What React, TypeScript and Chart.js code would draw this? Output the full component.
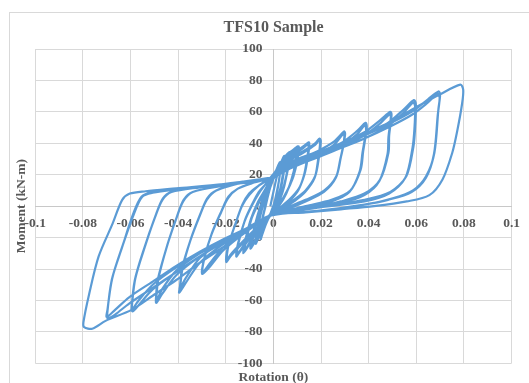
import React, { useEffect, useRef } from "react";
import { Chart, registerables } from "chart.js";

Chart.register(...registerables);

const chartTitle = "TFS10 Sample";
const xAxisTitle = "Rotation (θ)";
const yAxisTitle = "Moment (kN-m)";

const xTickValues = [-0.1, -0.08, -0.06, -0.04, -0.02, 0, 0.02, 0.04, 0.06, 0.08, 0.1];
const xTickLabels = ["-0.1", "-0.08", "-0.06", "-0.04", "-0.02", "0", "0.02", "0.04", "0.06", "0.08", "0.1"];
const yTickValues = [-100, -80, -60, -40, -20, 0, 20, 40, 60, 80, 100];
const yTickLabels = ["-100", "-80", "-60", "-40", "-20", "0", "20", "40", "60", "80", "100"];

// [rotation, moment] pairs, one array per loading cycle
const loop004a = [[-0.0013, 0], [0.0007, 14], [0.0027, 26], [0.0025, 18], [0.0007, 4], [-0.0003, -2], [-0.0013, -6], [-0.0033, -11], [-0.0053, -19], [-0.0048, -10], [-0.0033, 0], [-0.0013, 12]];
const loop004b = [[0.0007, 20], [0.0027, 27], [0.0024, 17], [0.0007, 3], [-0.0013, -5], [-0.0033, -12], [-0.0053, -20], [-0.0047, -9], [-0.0031, 2], [-0.0013, 13]];
const loop004c = [[0.0007, 21], [0.0028, 28], [0.0026, 19], [0.0009, 5], [-0.0013, -5], [-0.0033, -11], [-0.0054, -21], [-0.0049, -10], [-0.0029, 3], [-0.0013, 14]];
const loop006a = [[0.0007, 20], [0.0027, 26], [0.0046, 32], [0.0041, 22], [0.0027, 10], [0.0007, 1], [-0.0013, -6], [-0.0043, -13], [-0.0072, -23], [-0.0065, -13], [-0.0048, -2], [-0.0028, 7], [-0.0013, 14]];
const loop006b = [[0.0007, 19], [0.0027, 25], [0.0048, 31], [0.0043, 21], [0.0028, 9], [0.0007, 0], [-0.0013, -6], [-0.0043, -12], [-0.0074, -24], [-0.0067, -14], [-0.0049, -1], [-0.0028, 8], [-0.0013, 15]];
const loop008a = [[0.0007, 20], [0.0036, 28], [0.0068, 34], [0.0061, 25], [0.0046, 14], [0.0027, 5], [0.0007, -1], [-0.0013, -6], [-0.0043, -11], [-0.0072, -20], [-0.0092, -26], [-0.0082, -17], [-0.0062, -5], [-0.0043, 4], [-0.0013, 14]];
const loop008b = [[0.0007, 19], [0.0036, 27], [0.0066, 33], [0.006, 24], [0.0046, 13], [0.0027, 4], [0.0007, -2], [-0.0013, -6], [-0.0043, -12], [-0.0072, -20], [-0.0092, -25], [-0.0082, -16], [-0.0062, -4], [-0.0043, 5], [-0.0013, 15]];
const loop008c = [[0.0007, 21], [0.0036, 29], [0.0071, 34.5], [0.0064, 26], [0.0048, 15], [0.0028, 6], [0.0007, 0], [-0.0013, -5], [-0.0043, -12], [-0.0072, -21], [-0.0097, -27], [-0.0087, -18], [-0.0067, -6], [-0.0045, 4], [-0.0013, 15]];
const loop011a = [[0.0017, 23], [0.0046, 30], [0.0076, 34], [0.0101, 37], [0.0096, 28], [0.0081, 18], [0.0056, 9], [0.0027, 2], [-0.0013, -6], [-0.0053, -12], [-0.0092, -21], [-0.0122, -29], [-0.0112, -20], [-0.0092, -8], [-0.0062, 2], [-0.0033, 10], [-0.0013, 16]];
const loop011b = [[0.0017, 22], [0.0046, 29], [0.0076, 33], [0.0098, 36], [0.0092, 27], [0.0076, 17], [0.0054, 8], [0.0027, 1], [-0.0013, -6], [-0.0053, -13], [-0.0092, -21], [-0.012, -28], [-0.011, -19], [-0.009, -7], [-0.0062, 3], [-0.0033, 11], [-0.0013, 17]];
const loop011c = [[0.0017, 24], [0.0046, 31], [0.0076, 35], [0.0106, 38], [0.01, 29], [0.0084, 19], [0.0058, 10], [0.0027, 2], [-0.0013, -5], [-0.0053, -13], [-0.0092, -22], [-0.0127, -30], [-0.0117, -21], [-0.0094, -8], [-0.0064, 3], [-0.0033, 11], [-0.0013, 17]];
const loop016a = [[0.0017, 24], [0.0046, 30], [0.0086, 34], [0.0125, 38], [0.015, 40.5], [0.0143, 30], [0.013, 20], [0.0106, 11], [0.0066, 4], [0.0027, -1], [-0.0013, -6], [-0.0062, -13], [-0.0112, -23], [-0.0146, -30], [-0.0156, -32], [-0.0149, -24], [-0.0122, -10], [-0.0092, 0], [-0.0062, 8], [-0.0033, 14], [-0.0013, 18]];
const loop016b = [[0.0017, 23], [0.0046, 29], [0.0086, 33], [0.0125, 37], [0.0147, 39.5], [0.014, 29], [0.0127, 19], [0.0104, 10], [0.0066, 3], [0.0027, -2], [-0.0013, -6], [-0.0062, -13], [-0.0112, -22], [-0.0143, -29], [-0.0153, -31], [-0.0146, -23], [-0.012, -9], [-0.009, 1], [-0.0062, 9], [-0.0033, 14], [-0.0013, 18]];
const loop021a = [[0.0027, 25], [0.0066, 30], [0.0125, 35], [0.0175, 40], [0.0194, 43], [0.0199, 41], [0.019, 30], [0.0175, 19], [0.0135, 10], [0.0086, 4], [0.0036, -1], [-0.0013, -6], [-0.0072, -14], [-0.0132, -24], [-0.0181, -32], [-0.0198, -35.5], [-0.0191, -26], [-0.0161, -12], [-0.0132, 0], [-0.0102, 7], [-0.0062, 13], [-0.0013, 18]];
const loop021b = [[0.0027, 24], [0.0066, 29], [0.0125, 34], [0.0175, 39], [0.0193, 42], [0.0196, 40], [0.0187, 29], [0.0173, 18], [0.0133, 9], [0.0086, 3], [0.0036, -2], [-0.0013, -6], [-0.0072, -14], [-0.0132, -23], [-0.0181, -31], [-0.0196, -34.5], [-0.0189, -25], [-0.0159, -11], [-0.013, 1], [-0.0102, 8], [-0.0062, 13], [-0.0013, 18]];
const loop031a = [[0.0036, 25], [0.0086, 29], [0.0185, 35], [0.0254, 41], [0.0297, 47.5], [0.0301, 46], [0.0293, 38], [0.0283, 31], [0.0264, 19], [0.0214, 10], [0.0135, 4], [0.0056, -1], [-0.0013, -6], [-0.0112, -16], [-0.021, -28], [-0.027, -39], [-0.03, -43], [-0.029, -33], [-0.026, -18], [-0.022, -4], [-0.0191, 5], [-0.0151, 11], [-0.0082, 15], [-0.0013, 18]];
const loop031b = [[0.0036, 24], [0.0086, 28], [0.0185, 33], [0.0254, 39], [0.0293, 46], [0.0298, 44.5], [0.0291, 37], [0.0281, 30], [0.0262, 18], [0.0212, 9], [0.0135, 3], [0.0056, -2], [-0.0013, -6], [-0.0112, -15], [-0.021, -26], [-0.027, -37], [-0.0298, -42], [-0.0288, -32], [-0.0258, -17], [-0.0218, -3], [-0.0189, 6], [-0.0151, 11], [-0.0082, 15], [-0.0013, 18]];
const loop040a = [[0.0036, 24], [0.0086, 28], [0.0185, 34], [0.0283, 40], [0.0353, 48], [0.0387, 53], [0.0392, 50], [0.0377, 35], [0.0366, 23], [0.0323, 10], [0.0244, 4], [0.0135, 0], [-0.0013, -6], [-0.0112, -15], [-0.021, -24], [-0.0309, -36], [-0.0369, -49], [-0.0396, -55], [-0.0393, -52], [-0.0384, -40], [-0.0349, -22], [-0.0309, -6], [-0.028, 4], [-0.024, 10], [-0.0132, 15], [-0.0013, 18]];
const loop040b = [[0.0036, 23], [0.0086, 27], [0.0185, 32], [0.0283, 38], [0.0353, 46], [0.0384, 51.5], [0.0389, 48.5], [0.0374, 34], [0.0362, 22], [0.0319, 9], [0.0244, 3], [0.0135, -1], [-0.0013, -6], [-0.0112, -14], [-0.021, -22], [-0.0309, -33], [-0.0369, -46], [-0.0394, -53], [-0.0391, -50], [-0.0381, -39], [-0.0347, -21], [-0.0307, -5], [-0.0278, 5], [-0.024, 10], [-0.0132, 15], [-0.0013, 18]];
const loop051a = [[0.0036, 24], [0.0086, 28], [0.0185, 34], [0.0283, 40], [0.0382, 47], [0.0451, 55], [0.0491, 60], [0.0496, 58], [0.0486, 45], [0.0483, 34], [0.0448, 17], [0.0382, 8], [0.0283, 3], [0.0135, -2], [-0.0013, -6], [-0.0112, -15], [-0.021, -23], [-0.0309, -32], [-0.0408, -44], [-0.0468, -56], [-0.0492, -61.5], [-0.0493, -58], [-0.0486, -47], [-0.0448, -26], [-0.0408, -8], [-0.0379, 3], [-0.0339, 9], [-0.021, 13], [-0.0013, 18]];
const loop051b = [[0.0036, 23], [0.0086, 27], [0.0185, 32], [0.0283, 38], [0.0382, 45], [0.0451, 53], [0.0488, 58.5], [0.0493, 56.5], [0.0483, 44], [0.0479, 33], [0.0445, 16], [0.0382, 7], [0.0283, 2], [0.0135, -2], [-0.0013, -6], [-0.0112, -14], [-0.021, -22], [-0.0309, -30], [-0.0408, -41], [-0.0468, -53], [-0.049, -60], [-0.0491, -57], [-0.0483, -46], [-0.0446, -25], [-0.0406, -7], [-0.0377, 4], [-0.0339, 9], [-0.021, 13], [-0.0013, 18]];
const loop061a = [[0.0086, 27], [0.0185, 33], [0.0283, 39], [0.0382, 45], [0.0481, 53], [0.055, 62], [0.059, 67.5], [0.0598, 65], [0.0595, 50], [0.0588, 38], [0.0558, 19], [0.0491, 9], [0.0382, 4], [0.0185, -1], [-0.0013, -6], [-0.0112, -15], [-0.021, -23], [-0.0309, -32], [-0.0408, -42], [-0.0507, -53], [-0.0566, -63], [-0.0591, -67], [-0.0596, -66], [-0.0582, -47], [-0.0541, -26], [-0.0497, -7], [-0.0466, 4], [-0.0428, 9], [-0.0309, 12], [-0.0161, 15], [-0.0013, 18]];
const loop061b = [[0.0086, 26], [0.0185, 31], [0.0283, 37], [0.0382, 43], [0.0481, 51], [0.055, 60], [0.0587, 66], [0.0595, 63.5], [0.0592, 49], [0.0584, 37], [0.0554, 18], [0.0486, 8], [0.0382, 3], [0.0185, -1], [-0.0013, -6], [-0.0112, -14], [-0.021, -22], [-0.0309, -30], [-0.0408, -39], [-0.0507, -50], [-0.0566, -60], [-0.0593, -65.5], [-0.0594, -63], [-0.058, -46], [-0.0538, -25], [-0.0495, -6], [-0.0464, 5], [-0.0428, 9], [-0.0309, 12], [-0.0161, 15], [-0.0013, 18]];
const loop071a = [[0.0086, 27], [0.0185, 33], [0.0283, 39], [0.0382, 45], [0.0481, 52], [0.058, 60], [0.0649, 68], [0.0693, 73], [0.07, 71], [0.0693, 62], [0.0676, 34], [0.0641, 19], [0.0586, 10], [0.0501, 5], [0.0382, 1], [0.0185, -3], [-0.0013, -6], [-0.0112, -15], [-0.021, -23], [-0.0309, -32], [-0.0408, -42], [-0.0507, -52], [-0.0606, -62], [-0.0665, -69], [-0.0695, -71.5], [-0.0699, -70], [-0.0679, -47], [-0.0635, -26], [-0.0589, -5], [-0.0554, 6], [-0.0507, 9], [-0.0408, 11], [-0.021, 14], [-0.0013, 18]];
const loop071b = [[0.0086, 25], [0.0185, 31], [0.0283, 37], [0.0382, 43], [0.0481, 50], [0.058, 58], [0.0649, 66], [0.069, 71.5], [0.0698, 69], [0.069, 58], [0.0674, 33], [0.064, 18], [0.058, 9], [0.0481, 4], [0.0382, 1], [0.0185, -3], [-0.0013, -6], [-0.0112, -14], [-0.021, -21], [-0.0309, -29], [-0.0408, -38], [-0.0507, -48], [-0.0606, -58], [-0.0665, -66], [-0.07, -70.5], [-0.0697, -66], [-0.0677, -46], [-0.0633, -25], [-0.0586, -5], [-0.0551, 6], [-0.0507, 8.5], [-0.0408, 10.5], [-0.021, 13.5], [-0.0013, 17.5]];
const loop081 = [[0.0086, 27], [0.0185, 33], [0.0283, 39], [0.0382, 46], [0.0481, 53], [0.06, 63], [0.0698, 71], [0.0785, 77.3], [0.0797, 74], [0.0792, 65], [0.0772, 48], [0.0751, 34], [0.071, 17], [0.0655, 7], [0.056, 3], [0.0422, 0], [0.0283, -2], [0.0135, -4], [-0.0013, -6], [-0.0112, -16], [-0.021, -26], [-0.0309, -36], [-0.0408, -47], [-0.0507, -57], [-0.0596, -66], [-0.0705, -73], [-0.0761, -78], [-0.0795, -77], [-0.0798, -74], [-0.0774, -56], [-0.0734, -32], [-0.0675, -11], [-0.0635, 4], [-0.0603, 8], [-0.0537, 9.5], [-0.0408, 11.3], [-0.021, 14], [-0.0013, 18]];

const cycles = [loop004a, loop004b, loop004c, loop006a, loop006b, loop008a, loop008b, loop008c, loop011a, loop011b, loop011c, loop016a, loop016b, loop021a, loop021b, loop031a, loop031b, loop040a, loop040b, loop051a, loop051b, loop061a, loop061b, loop071a, loop071b, loop081];

const textColor = "#595959";
const fontFamily = '"Liberation Serif", "Times New Roman", serif';
const gridColor = "#D9D9D9";
const zeroLineColor = "#C8C8C8";

export default function App() {
  const canvasRef = useRef<HTMLCanvasElement | null>(null);

  useEffect(() => {
    document.body.style.margin = "0";
    const canvas = canvasRef.current;
    if (!canvas) return;
    const points = cycles.flat().map(([x, y]) => ({ x, y }));
    const tickFont = { family: fontFamily, size: 13.5, weight: "bold" as const };
    const chart = new Chart(canvas, {
      type: "scatter",
      data: {
        datasets: [
          {
            data: points,
            showLine: true,
            borderColor: "#5B9BD5",
            backgroundColor: "#5B9BD5",
            borderWidth: 2.2,
            pointRadius: 0,
            tension: 0.3,
            fill: false,
          },
        ],
      },
      options: {
        animation: false,
        responsive: false,
        maintainAspectRatio: false,
        layout: { padding: { left: 18.2, right: 0, top: 0, bottom: 0 } },
        plugins: {
          legend: { display: false },
          tooltip: { enabled: false },
          title: {
            display: true,
            text: chartTitle,
            color: textColor,
            font: { family: fontFamily, size: 16, weight: "bold", lineHeight: 1.2 },
            padding: { top: 18.7, bottom: 11.1 },
          },
        },
        scales: {
          x: {
            type: "linear",
            min: -0.1,
            max: 0.1,
            position: "center",
            afterFit: (s: any) => { s.height = 0; },
            afterBuildTicks: (s: any) => { s.ticks = xTickValues.map((v) => ({ value: v })); },
            grid: {
              color: (c: any) => (c.tick && c.tick.value === 0 ? zeroLineColor : gridColor),
              lineWidth: 1,
              drawTicks: false,
            },
            border: { color: zeroLineColor, width: 1 },
            ticks: {
              autoSkip: false,
              maxRotation: 0,
              padding: 9,
              color: textColor,
              font: tickFont,
              callback: (_v: any, i: number) => xTickLabels[i],
            },
          },
          y: {
            type: "linear",
            min: -100,
            max: 100,
            position: "center",
            afterFit: (s: any) => { s.width = 0; },
            afterBuildTicks: (s: any) => { s.ticks = yTickValues.map((v) => ({ value: v })); },
            grid: {
              color: (c: any) => (c.tick && c.tick.value === 0 ? zeroLineColor : gridColor),
              lineWidth: 1,
              drawTicks: false,
            },
            border: { color: zeroLineColor, width: 1 },
            ticks: {
              autoSkip: false,
              padding: 11,
              color: textColor,
              font: tickFont,
              callback: (_v: any, i: number) => yTickLabels[i],
            },
          },
          x2: {
            type: "linear",
            position: "bottom",
            min: -0.1,
            max: 0.1,
            grid: { display: false },
            border: { display: false },
            ticks: { display: false },
            afterFit: (s: any) => { s.height = 19.7; },
            title: {
              display: true,
              text: xAxisTitle,
              color: textColor,
              font: { family: fontFamily, size: 13.5, weight: "bold", lineHeight: 0.8 },
              padding: { top: 0, bottom: 0 },
            },
          },
          y2: {
            type: "linear",
            position: "left",
            min: -100,
            max: 100,
            grid: { display: false },
            border: { display: false },
            ticks: { display: false },
            afterFit: (s: any) => { s.width = 17.1; },
            title: {
              display: true,
              text: yAxisTitle,
              color: textColor,
              font: { family: fontFamily, size: 13.5, weight: "bold", lineHeight: 0.5 },
              padding: { top: 0.4, bottom: 0 },
            },
          },
          y3: {
            type: "linear",
            position: "right",
            min: -100,
            max: 100,
            grid: { display: false },
            border: { display: false },
            ticks: { display: false },
            afterFit: (s: any) => { s.width = 8.7; },
          },
        },
      },
    });
    return () => chart.destroy();
  }, []);

  return (
    <div style={{ position: "relative", width: 529, height: 383, overflow: "hidden", background: "#fff" }}>
      <div
        style={{
          position: "absolute",
          left: 9,
          top: 12,
          width: 540,
          height: 400,
          border: "1px solid #D9D9D9",
          boxSizing: "border-box",
        }}
      />
      <canvas ref={canvasRef} width={529} height={383} style={{ position: "absolute", left: 0, top: 0, width: 529, height: 383 }} />
    </div>
  );
}
